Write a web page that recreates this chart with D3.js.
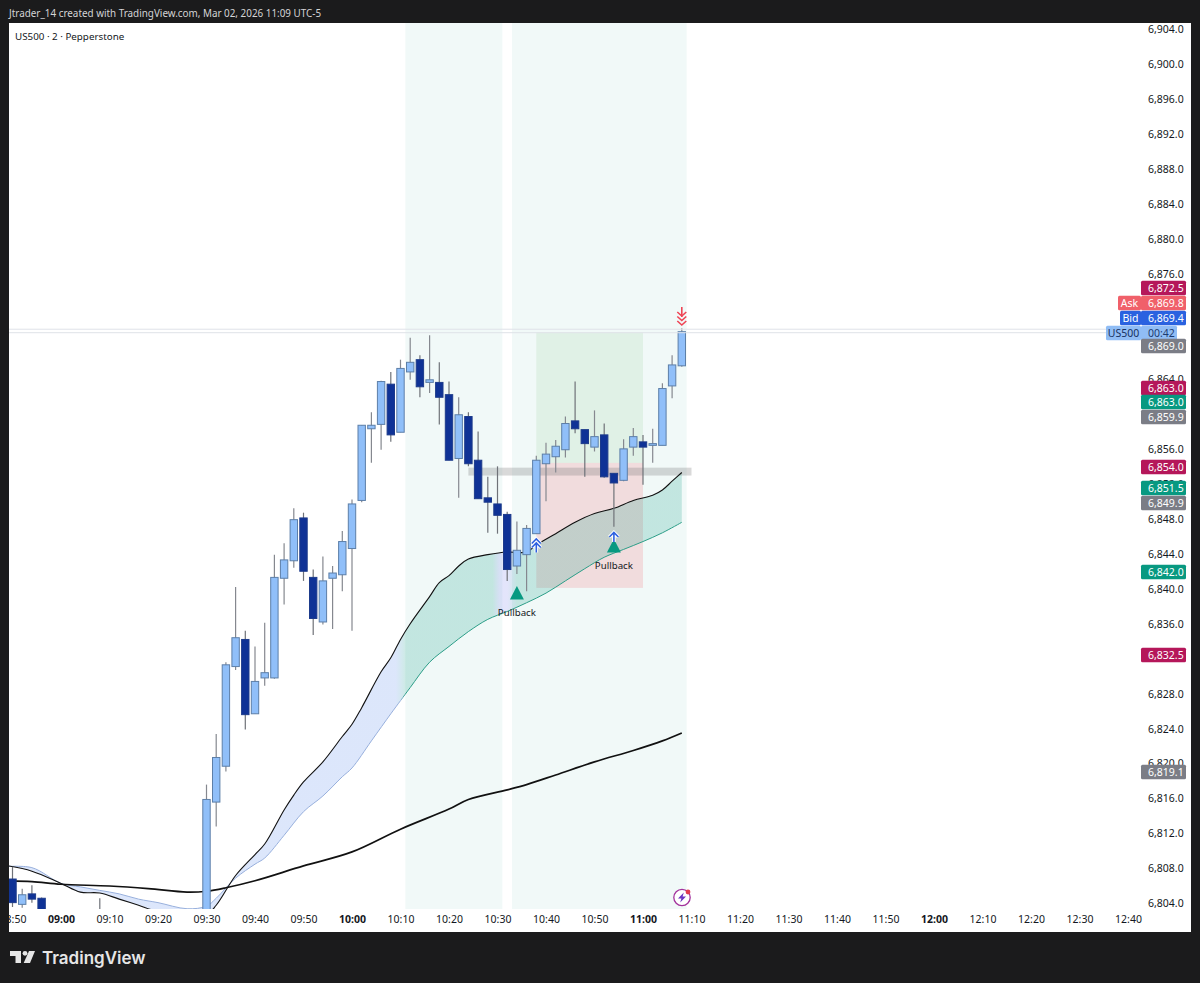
<!DOCTYPE html>
<html><head><meta charset="utf-8">
<script src="https://cdn.jsdelivr.net/npm/d3@7/dist/d3.min.js"></script>
<style>html,body{margin:0;padding:0;background:#1b1b1c;overflow:hidden}svg{display:block}text{font-family:"Noto Sans",sans-serif}</style>
</head><body><div id="chart"></div>
<script>
const candleTimes=["08:50","08:52","08:54","08:56","09:08","09:30","09:32","09:34","09:36","09:38","09:40","09:42","09:44","09:46","09:48","09:50","09:52","09:54","09:56","09:58","10:00","10:02","10:04","10:06","10:08","10:10","10:12","10:14","10:16","10:18","10:20","10:22","10:24","10:26","10:28","10:30","10:32","10:34","10:36","10:38","10:40","10:42","10:44","10:46","10:48","10:50","10:52","10:54","10:56","10:58","11:00","11:02","11:04","11:06","11:08"];
const opens =[6806.8,6803.9,6805.1,6804.6,6803.0,6802.6,6815.6,6819.7,6831.1,6834.2,6825.7,6829.8,6829.8,6841.2,6843.2,6848.1,6841.3,6836.2,6841.2,6841.6,6844.6,6850.1,6858.3,6858.8,6863.4,6857.9,6864.8,6866.2,6863.6,6863.6,6862.2,6854.9,6859.7,6854.7,6850.4,6849.7,6848.5,6842.6,6843.9,6846.3,6854.3,6855.1,6855.9,6859.2,6858.2,6856.2,6857.6,6853.2,6852.4,6856.2,6856.8,6856.4,6856.4,6863.2,6865.5];
const highs =[6808.2,6805.7,6806.1,6804.7,6804.6,6817.6,6823.4,6831.6,6840.2,6835.2,6833.4,6836.1,6843.9,6845.2,6849.2,6848.7,6842.2,6843.7,6842.6,6846.6,6850.2,6858.7,6860.2,6863.8,6864.8,6866.2,6868.7,6866.7,6869.0,6865.9,6863.7,6861.9,6860.2,6858.0,6852.8,6854.0,6848.8,6847.7,6847.3,6855.2,6856.7,6857.0,6859.7,6863.7,6858.2,6860.4,6858.9,6853.2,6857.1,6858.4,6857.6,6858.3,6863.5,6866.7,6869.8];
const lows  =[6803.6,6803.5,6804.1,6802.8,6802.5,6802.4,6812.8,6819.1,6830.7,6823.9,6825.7,6828.9,6829.7,6838.2,6842.4,6840.9,6834.7,6835.9,6835.4,6839.7,6835.2,6849.9,6854.4,6855.9,6856.8,6857.9,6863.9,6861.9,6862.4,6858.8,6854.7,6850.4,6854.0,6850.3,6846.4,6846.3,6840.9,6841.7,6839.7,6846.3,6850.0,6853.3,6855.0,6857.8,6852.8,6855.7,6852.7,6847.1,6852.3,6855.2,6851.9,6854.4,6856.4,6861.8,6865.4];
const closes=[6804.1,6805.0,6804.5,6803.0,6802.8,6815.9,6820.7,6831.3,6834.4,6825.6,6829.4,6830.4,6841.3,6843.3,6847.9,6842.0,6836.6,6840.9,6841.8,6845.4,6849.7,6858.7,6858.7,6863.7,6857.6,6865.2,6865.9,6863.1,6863.9,6861.9,6854.7,6859.9,6854.3,6850.3,6849.9,6848.4,6842.2,6844.4,6846.9,6854.7,6855.4,6856.3,6858.9,6858.3,6856.6,6857.4,6852.8,6852.1,6856.0,6857.4,6856.2,6856.6,6862.9,6865.6,6869.4];

const fastTimes=["08:48","08:54","09:00","09:04","09:08","09:12","09:16","09:20","09:30","09:32","09:36","09:40","09:42","09:46","09:48","09:50","09:54","09:58","10:00","10:02","10:06","10:08","10:10","10:12","10:16","10:18","10:20","10:22","10:24","10:28","10:32","10:36","10:38","10:42","10:46","10:50","10:54","10:58","11:02","11:04","11:06","11:08"];
const fastValues=[6808.4,6807.7,6806.3,6805.3,6805.2,6804.5,6803.8,6803.1,6802.8,6803.8,6807.2,6809.6,6810.8,6814.7,6816.4,6817.9,6820.2,6823.1,6824.5,6826.4,6830.5,6832.1,6834.2,6836.0,6839.1,6840.7,6841.5,6842.6,6843.4,6843.9,6844.2,6844.2,6845.0,6846.3,6847.6,6848.6,6849.2,6850.1,6850.7,6851.3,6852.3,6853.3];
const midTimes=["08:48","08:54","09:00","09:04","09:08","09:12","09:16","09:20","09:26","09:30","09:32","09:36","09:40","09:42","09:46","09:50","09:54","09:58","10:00","10:04","10:08","10:10","10:12","10:16","10:20","10:24","10:28","10:32","10:36","10:40","10:44","10:48","10:52","10:56","11:00","11:04","11:08"];
const midValues=[6808.2,6808.1,6806.3,6805.9,6805.5,6805.1,6804.5,6804.1,6803.4,6803.7,6804.6,6806.9,6808.5,6809.2,6811.8,6814.5,6816.3,6818.5,6819.5,6822.6,6825.7,6827.2,6828.7,6831.6,6833.4,6835.1,6836.5,6837.4,6838.4,6839.5,6840.9,6842.3,6843.6,6844.5,6845.4,6846.4,6847.6];
const slowTimes=["08:48","08:54","09:00","09:10","09:18","09:26","09:30","09:34","09:40","09:50","10:00","10:10","10:20","10:24","10:32","10:36","10:42","10:50","10:58","11:04","11:08"];
const slowValues=[6806.6,6806.5,6806.2,6806.0,6805.7,6805.3,6805.4,6805.8,6806.6,6808.3,6809.9,6812.5,6814.8,6815.9,6817.0,6817.6,6818.7,6820.2,6821.5,6822.6,6823.5];

const zoneStarts=["10:11","10:33"], zoneEnds=["10:31","11:09"];
const positionStart="10:38", positionEnd="11:00";
const positionTop=6869.3, positionEntry=6854.4, positionBottom=6840.1;
const bandStart="10:24", bandEnd="11:10", bandTop=6853.85, bandBottom=6852.95;
const pullbackTimes=["10:34","10:54"], pullbackPrices=[6839.5,6844.9], pullbackLabel="Pullback";
const bidPrice=6869.4, askPrice=6869.8;

const xTickTimes=["08:50","09:00","09:10","09:20","09:30","09:40","09:50","10:00","10:10","10:20","10:30","10:40","10:50","11:00","11:10","11:20","11:30","11:40","11:50","12:00","12:10","12:20","12:30","12:40"];
const boldTicks=["09:00","10:00","11:00","12:00"];
const yTicks=[6904,6900,6896,6892,6888,6884,6880,6876,6864,6856,6852,6848,6844,6840,6836,6828,6824,6820,6816,6812,6808,6804];

const tagValues=[6872.5,6869.8,6869.4,null,6869.0,6863.0,6863.0,6859.9,6854.0,6851.5,6849.9,6842.0,6832.5,6819.1];
const tagTexts=["6,872.5","6,869.8","6,869.4","00:42","6,869.0","6,863.0","6,863.0","6,859.9","6,854.0","6,851.5","6,849.9","6,842.0","6,832.5","6,819.1"];
const tagColors=["#b5175a","#f0606a","#2a62e0","#90bdf5","#7b7d86","#b5175a","#089981","#7b7d86","#b5175a","#089981","#7b7d86","#089981","#b5175a","#7b7d86"];
const tagRowCenters=[288,303,318,333,346,388,402,417,467,488,503,572,655,772];

const W=1200,H=983,L=9,T=23,R=1191,B=932,PB=909;
const mins=s=>{const[a,b]=s.split(":").map(Number);return a*60+b;};
const x=d3.scaleLinear().domain([540,600]).range([61,352]);
const y=d3.scaleLinear().domain([6804,6904]).range([903.5,29.2]);

const svg=d3.select("#chart").append("svg").attr("width",W).attr("height",H);
svg.append("rect").attr("width",W).attr("height",H).attr("fill","#1b1b1c");
svg.append("rect").attr("x",L).attr("y",T).attr("width",R-L).attr("height",B-T).attr("fill","#fff");
const defs=svg.append("defs");
defs.append("clipPath").attr("id","pane").append("rect").attr("x",L).attr("y",T).attr("width",R-L).attr("height",PB-T);

const g=svg.append("g").attr("clip-path","url(#pane)");
// zones
g.selectAll(".zone").data(zoneStarts).join("rect")
 .attr("x",d=>x(mins(d))).attr("width",(d,i)=>x(mins(zoneEnds[i]))-x(mins(d)))
 .attr("y",T).attr("height",PB-T).attr("fill","#f1f9f8");

// position boxes
g.append("rect").attr("x",x(mins(positionStart))).attr("width",x(mins(positionEnd))-x(mins(positionStart)))
 .attr("y",y(positionTop)).attr("height",y(positionEntry)-y(positionTop)).attr("fill","rgba(76,175,80,0.10)");
g.append("rect").attr("x",x(mins(positionStart))).attr("width",x(mins(positionEnd))-x(mins(positionStart)))
 .attr("y",y(positionEntry)).attr("height",y(positionBottom)-y(positionEntry)).attr("fill","rgba(242,54,69,0.15)");

// ribbon fill
const grad=defs.append("linearGradient").attr("id","ribbon").attr("gradientUnits","userSpaceOnUse")
 .attr("x1",L).attr("x2",700).attr("y1",0).attr("y2",0);
const stop=(px,c,o)=>grad.append("stop").attr("offset",(px-L)/(700-L)).attr("stop-color",c).attr("stop-opacity",o);
const blue="#326ee8",teal="#089981",lav="#505ae6";
stop(L,blue,.17);stop(x(mins("10:09")),blue,.17);stop(x(mins("10:11")),teal,.2);
stop(x(mins("10:29")),teal,.2);stop(x(mins("10:30")+.5),lav,.16);stop(x(mins("10:32")),lav,.16);stop(x(mins("10:34")),teal,.2);stop(700,teal,.2);

const fastPts=fastTimes.map((t,i)=>[x(mins(t)),y(fastValues[i])]);
const midPts=midTimes.map((t,i)=>[x(mins(t)),y(midValues[i])]);
const slowPts=slowTimes.map((t,i)=>[x(mins(t)),y(slowValues[i])]);
const curve=d3.line().curve(d3.curveCatmullRom);
g.append("path").attr("d",curve(fastPts)+"L"+curve(midPts.slice().reverse()).slice(1)+"Z").attr("fill","url(#ribbon)");

// band
g.append("rect").attr("x",x(mins(bandStart))).attr("width",x(mins(bandEnd))-x(mins(bandStart)))
 .attr("y",y(bandTop)).attr("height",y(bandBottom)-y(bandTop)).attr("fill","rgba(110,110,110,0.26)");

// bid/ask lines
[bidPrice,askPrice].forEach(p=>svg.append("line").attr("x1",L).attr("x2",1106).attr("y1",y(p)+1).attr("y2",y(p)+1).attr("stroke","#dfe2e8").attr("stroke-width",1));

// ema lines
const midStroke=defs.append("linearGradient").attr("id","midStroke").attr("gradientUnits","userSpaceOnUse").attr("x1",L).attr("x2",700).attr("y1",0).attr("y2",0);
midStroke.append("stop").attr("offset",(x(mins("10:10"))-L)/(700-L)).attr("stop-color","#97afdc");
midStroke.append("stop").attr("offset",(x(mins("10:11"))-L)/(700-L)).attr("stop-color","#2b9d87");
g.append("path").attr("d",curve(midPts)).attr("fill","none").attr("stroke","url(#midStroke)").attr("stroke-width",1);
g.append("path").attr("d",curve(fastPts)).attr("fill","none").attr("stroke","#111").attr("stroke-width",1.1);
g.append("path").attr("d",curve(slowPts)).attr("fill","none").attr("stroke","#111").attr("stroke-width",1.7);

// candles
const candles=candleTimes.map((t,i)=>({t:mins(t),o:opens[i],h:highs[i],l:lows[i],c:closes[i]}));
const cg=g.selectAll(".candle").data(candles).join("g");
cg.append("line").attr("x1",d=>x(d.t)).attr("x2",d=>x(d.t)).attr("y1",d=>y(d.h)).attr("y2",d=>y(d.l))
 .attr("stroke",d=>d.c>=d.o?"#85888f":"#6f7278").attr("stroke-width",1.2);
cg.append("rect").attr("x",d=>x(d.t)-3.7).attr("width",7.4)
 .attr("y",d=>y(Math.max(d.o,d.c))).attr("height",d=>Math.max(1.5,Math.abs(y(d.o)-y(d.c))))
 .attr("fill",d=>d.c>=d.o?"#90bff9":"#0f3296").attr("stroke",d=>d.c>=d.o?"#5d7fa8":"#1d3b8b").attr("stroke-width",1);

// pullback markers
pullbackTimes.forEach((t,i)=>{
  const px=x(mins(t)),py=y(pullbackPrices[i]);
  svg.append("path").attr("transform",`translate(${px},${py})`).attr("d","M0,-7L7,6.5L-7,6.5Z").attr("fill","#089981");
  svg.append("text").attr("x",px).attr("y",py+23).attr("text-anchor","middle").attr("font-size",9.7).attr("fill","#131722").text(pullbackLabel);
});
// blue arrows
const arrow=(px,py,n)=>{
  const a=svg.append("g").attr("transform",`translate(${px},${py})`).attr("fill","none");
  const d=[];
  for(let i=0;i<n;i++) d.push(`M-4.5,${i*4+3}L0,${i*4-1.5}L4.5,${i*4+3}`);
  d.push(`M0,${n*4-5}V${n*4+4}`);
  a.append("path").attr("d",d.join("")).attr("stroke","#fff").attr("stroke-width",3.6);
  a.append("path").attr("d",d.join("")).attr("stroke","#2f62e0").attr("stroke-width",1.6);
};
arrow(x(mins("10:38")),540.5,2);
arrow(x(mins("10:54")),534,1);
// red chevrons
const red=svg.append("g").attr("transform",`translate(${x(mins("11:08"))},0)`).attr("fill","none").attr("stroke","#ef4455").attr("stroke-width",1.6);
red.append("path").attr("d","M0,307V317");
[312,316.5,321].forEach(v=>red.append("path").attr("d",`M-4.5,${v}L0,${v+4}L4.5,${v}`));

// icon
const ic=svg.append("g").attr("transform","translate(682,897.5)");
ic.append("circle").attr("r",8.2).attr("fill","#fff").attr("stroke","#a2329c").attr("stroke-width",1.3);
ic.append("path").attr("d","M1.8,-5L-4,1H-0.6L-1.8,5L4,-1H0.6Z").attr("fill","#6b35c4");
ic.append("circle").attr("cx",6).attr("cy",-5.5).attr("r",2.4).attr("fill","#e23a4e");

// axes
const xAxis=svg.append("g").attr("transform",`translate(0,${PB})`)
 .call(d3.axisBottom(x).tickValues(xTickTimes.map(mins)).tickSize(0).tickPadding(7)
 .tickFormat(v=>xTickTimes.find(t=>mins(t)===v)));
xAxis.select(".domain").remove();
xAxis.selectAll("text").attr("font-size",10.5).attr("fill","#131722").attr("font-family",'"Noto Sans",sans-serif')
 .attr("font-weight",v=>boldTicks.some(t=>mins(t)===v)?700:400);
const yAxis=svg.append("g").attr("transform","translate(1148,0)")
 .call(d3.axisRight(y).tickValues(yTicks).tickSize(0).tickPadding(0).tickFormat(d3.format(",.1f")));
yAxis.select(".domain").remove();
yAxis.selectAll("text").attr("font-size",10.5).attr("fill","#131722").attr("font-family",'"Noto Sans",sans-serif');

// price tags
tagTexts.forEach((txt,i)=>{
  const cy=tagRowCenters[i], isTimer=tagValues[i]===null;
  svg.append("rect").attr("x",1141).attr("y",cy-7.3).attr("width",isTimer?36:45).attr("height",14.6).attr("rx",1.5).attr("fill",tagColors[i]);
  svg.append("text").attr("x",1148).attr("y",cy+3.7).attr("font-size",10.5).attr("fill",isTimer?"#1d3b70":"#fff").text(txt);
});
const sideTag=(label,x0,x1,cy,bg,fg)=>{
  svg.append("rect").attr("x",x0).attr("y",cy-7.3).attr("width",x1-x0).attr("height",14.6).attr("rx",1.5).attr("fill",bg);
  svg.append("text").attr("x",(x0+x1)/2).attr("y",cy+3.7).attr("text-anchor","middle").attr("font-size",10.5).attr("fill",fg).text(label);
};
sideTag("Ask",1118,1141,303,"#f0606a","#fff");
sideTag("Bid",1120,1141,318,"#2a62e0","#fff");
sideTag("US500",1106,1141,333,"#90bdf5","#16305f");

// frame on top
svg.append("rect").attr("x",0).attr("y",0).attr("width",L).attr("height",H).attr("fill","#1b1b1c");

// titles
svg.append("text").attr("x",9).attr("y",16.5).attr("font-size",9.9).attr("fill","#d4d4d6").text("Jtrader_14 created with TradingView.com, Mar 02, 2026 11:09 UTC-5");
svg.append("text").attr("x",15).attr("y",39.5).attr("font-size",9.8).attr("fill","#131722").text("US500 · 2 · Pepperstone");

// logo
const logo=svg.append("g").attr("fill","#e6e6e6");
logo.append("path").attr("d","M10,951H21V963H15.5V956H10Z");
logo.append("circle").attr("cx",25).attr("cy",953.3).attr("r",2.4);
logo.append("path").attr("d","M29,951H35L30,963H23.7Z");
svg.append("text").attr("x",42).attr("y",964).attr("font-size",17).attr("font-weight",600).attr("fill","#e6e6e6").style("font-family","Inter,sans-serif").text("TradingView");
</script></body></html>
